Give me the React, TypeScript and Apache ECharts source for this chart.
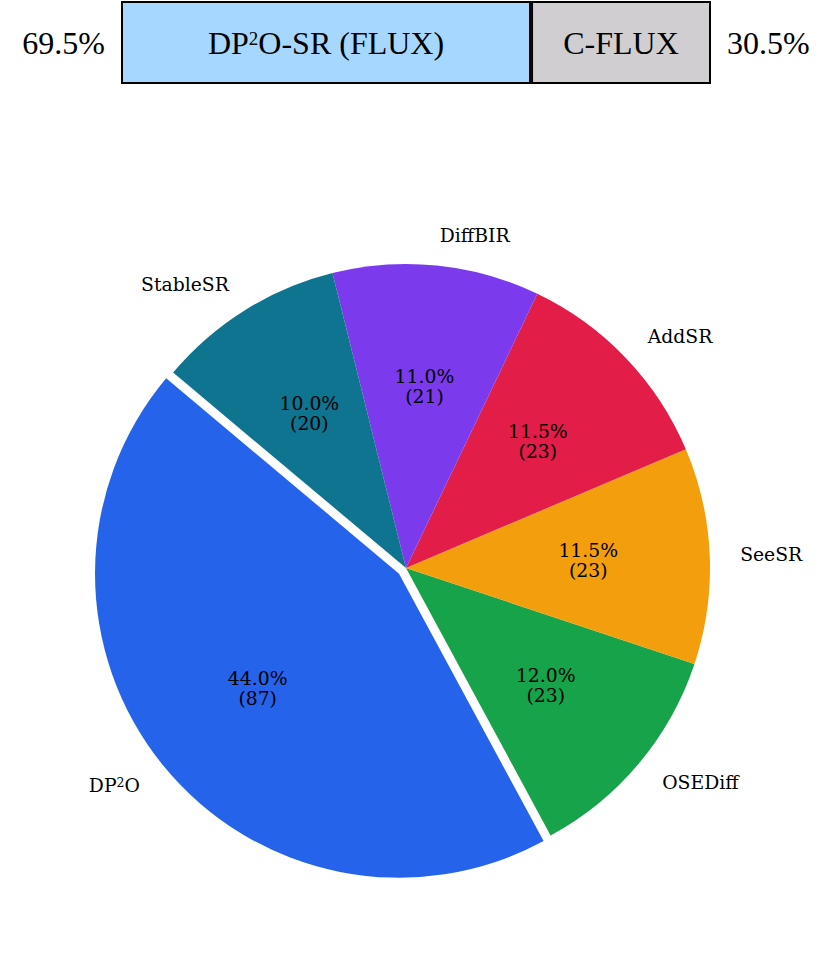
import React, { useEffect, useRef } from 'react';
import * as echarts from 'echarts';

// Top comparison bar
const barNames = ['DP²O-SR (FLUX)', 'C-FLUX'];
const barShares = [69.5, 30.5];
const barColors = ['#a6d8ff', '#d0ced0'];

// Pie (counter-clockwise from 140°)
const pieNames = ['DP²O', 'OSEDiff', 'SeeSR', 'AddSR', 'DiffBIR', 'StableSR'];
const pieShares = [44.0, 12.0, 11.5, 11.5, 11.0, 10.0];
const pieCounts = [87, 23, 23, 23, 21, 20];
const pieColors = ['#2563eb', '#16a34a', '#f39e0c', '#e11d48', '#7c3aed', '#0e7490'];
const explodedIndex = 0;

const toRich = (s: string) => s.replace(/²/g, '{sup|2}');

export default function App() {
  const ref = useRef<HTMLDivElement>(null);
  useEffect(() => {
    const chart = echarts.init(ref.current!, null, { renderer: 'svg' });
    const R = 304;
    const center = [406, 568];
    const serif = 'DejaVu Serif';
    const times = 'Liberation Serif';
    const pieFont = 18.8;
    const sideLabel = {
      fontSize: 32,
      fontFamily: times,
      color: '#000',
      margin: 16,
    };
    const option = {
      animation: false,
      backgroundColor: '#ffffff',
      grid: { left: 121, top: 1, width: 590, height: 83 },
      xAxis: { type: 'value', min: 0, max: 100, show: false },
      yAxis: [
        {
          type: 'category',
          position: 'left',
          data: [`${barShares[0].toFixed(1)}%`],
          axisLine: { show: false },
          axisTick: { show: false },
          splitLine: { show: false },
          axisLabel: sideLabel,
        },
        {
          type: 'category',
          position: 'right',
          data: [`${barShares[1].toFixed(1)}%`],
          axisLine: { show: false },
          axisTick: { show: false },
          splitLine: { show: false },
          axisLabel: sideLabel,
        },
      ],
      series: [
        ...barNames.map((n, i) => ({
          type: 'bar',
          name: n,
          stack: 'total',
          yAxisIndex: 0,
          barWidth: '100%',
          silent: true,
          data: [barShares[i]],
          itemStyle: { color: barColors[i], borderColor: '#000', borderWidth: 2 },
          label: {
            show: true,
            position: 'inside',
            formatter: toRich(n),
            fontSize: 32,
            fontFamily: times,
            color: '#000',
            rich: {
              sup: {
                fontSize: 19,
                fontFamily: times,
                color: '#000',
                verticalAlign: 'top',
                padding: [2, 0, 0, 0],
              },
            },
          },
        })),
        {
          type: 'pie',
          center,
          radius: [0, R],
          startAngle: 140,
          clockwise: false,
          selectedMode: 'single',
          selectedOffset: 9,
          avoidLabelOverlap: false,
          silent: true,
          label: {
            show: true,
            position: 'outer',
            alignTo: 'none',
            distanceToLabelLine: 0,
            fontSize: pieFont,
            fontFamily: serif,
            color: '#000',
            formatter: (p: any) => toRich(p.name),
            rich: {
              sup: {
                fontSize: 12.5,
                fontFamily: serif,
                color: '#000',
                verticalAlign: 'top',
              },
            },
          },
          labelLine: { show: false, length: R * 0.1, length2: 0 },
          data: pieNames.map((n, i) => ({
            name: n,
            value: pieShares[i],
            selected: i === explodedIndex,
            itemStyle: { color: pieColors[i] },
          })),
        },
        {
          type: 'pie',
          center,
          radius: [R * 0.2 - 6, R],
          startAngle: 140,
          clockwise: false,
          selectedMode: 'single',
          selectedOffset: 9,
          avoidLabelOverlap: false,
          silent: true,
          itemStyle: { color: 'rgba(0,0,0,0)' },
          label: {
            show: true,
            position: 'inside',
            fontSize: pieFont,
            lineHeight: 20,
            fontFamily: serif,
            color: '#000',
            formatter: (p: any) =>
              `${pieShares[p.dataIndex].toFixed(1)}%\n(${pieCounts[p.dataIndex]})`,
          },
          labelLine: { show: false },
          data: pieNames.map((n, i) => ({
            name: n,
            value: pieShares[i],
            selected: i === explodedIndex,
          })),
        },
      ],
    };
    chart.setOption(option as any);
    return () => chart.dispose();
  }, []);
  return (
    <div
      ref={ref}
      style={{ position: 'absolute', left: 0, top: 0, width: 835, height: 980 }}
    />
  );
}
